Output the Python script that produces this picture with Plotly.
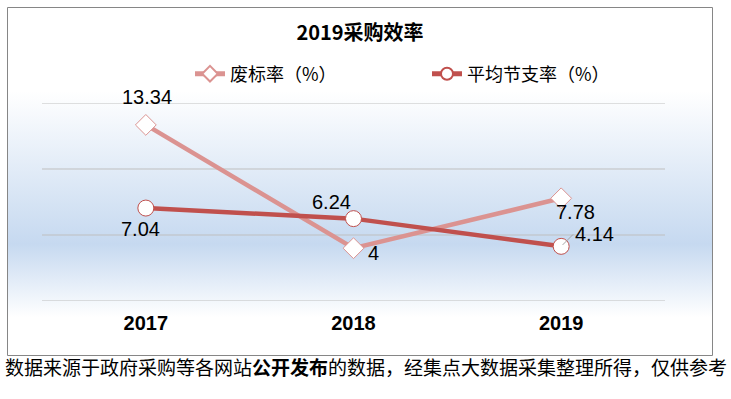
import plotly.graph_objects as go
import base64

years = ["2017", "2018", "2019"]
fei_biao = [13.34, 4, 7.78]
jie_zhi = [7.04, 6.24, 4.14]
name_fei = "废标率（%）"
name_jie = "平均节支率（%）"
title_text = "2019采购效率"
footer = "数据来源于政府采购等各网站<b>公开发布</b>的数据，经集点大数据采集整理所得，仅供参考"
grid_values = [0, 5, 10, 15]

C_LIGHT = "#db9391"
C_DARK = "#c0504d"
NUM_FONT = "Liberation Sans, Arial, sans-serif"
CJK_FONT = "Noto Sans CJK SC, sans-serif"

W, H = 731, 399
L, R, T, B = 42, 66, 103, 98
PW, PH = W - L - R, H - T - B

def px_x(p):
    return (p - L) / PW

def px_y(p):
    return (H - B - p) / PH

svg = (
    '<svg xmlns="http://www.w3.org/2000/svg" width="100" height="349" preserveAspectRatio="none">'
    '<defs><linearGradient id="g" x1="0" y1="0" x2="0" y2="1">'
    '<stop offset="0" stop-color="#ffffff"/>'
    '<stop offset="0.24" stop-color="#ffffff"/>'
    '<stop offset="0.68" stop-color="#c6d9f0"/>'
    '<stop offset="0.89" stop-color="#ffffff"/>'
    '<stop offset="1" stop-color="#ffffff"/>'
    '</linearGradient></defs>'
    '<rect x="0" y="0" width="100" height="349" fill="url(#g)"/></svg>'
)
src = "data:image/svg+xml;base64," + base64.b64encode(svg.encode()).decode()

fig = go.Figure()
fig.add_trace(go.Scatter(
    x=years, y=fei_biao, name=name_fei, mode="lines+markers",
    line=dict(color=C_LIGHT, width=4.5),
    marker=dict(symbol="diamond", size=16, color="white", line=dict(color=C_LIGHT, width=1)),
    legend="legend",
))
fig.add_trace(go.Scatter(
    x=years, y=jie_zhi, name=name_jie, mode="lines+markers",
    line=dict(color=C_DARK, width=4.5),
    marker=dict(symbol="circle", size=16, color="white", line=dict(color=C_DARK, width=1)),
    legend="legend2",
))

# data labels: (series, index, xshift, yshift, arrow offset)
label_styles = [
    (fei_biao, 0, 1, 28, None),
    (fei_biao, 1, 20, -5, None),
    (fei_biao, 2, 14, -14, None),
    (jie_zhi, 0, -5, -21, None),
    (jie_zhi, 1, -22, 17, None),
    (jie_zhi, 2, None, None, (12, -12)),
]
annos = []
for series, i, xs, ys, arr in label_styles:
    v = series[i]
    txt = f"{v:g}"
    if arr is None:
        annos.append(dict(x=i, y=v, xref="x", yref="y", text=txt, showarrow=False,
                          xshift=xs, yshift=ys,
                          font=dict(family=NUM_FONT, size=20, color="black")))
    else:
        annos.append(dict(x=i, y=v, xref="x", yref="y", text=txt, showarrow=True,
                          ax=arr[0], ay=arr[1],
                          arrowhead=0, arrowwidth=1, arrowcolor="#a6a6a6", standoff=2,
                          xanchor="left", font=dict(family=NUM_FONT, size=20, color="black")))

annos.append(dict(xref="paper", yref="paper", x=px_x(366), y=px_y(382), text=footer,
                  showarrow=False, font=dict(family=CJK_FONT, size=19, color="black")))

shapes = [dict(type="line", xref="paper", yref="y", x0=0, x1=1, y0=g, y1=g,
               line=dict(color="#bfbfbf", width=1), layer="below") for g in grid_values]
shapes.append(dict(type="rect", xref="paper", yref="paper", x0=px_x(7.5), x1=px_x(712.5),
                   y0=px_y(355.5), y1=px_y(7.5), line=dict(color="#868686", width=1),
                   fillcolor="rgba(0,0,0,0)", layer="above"))

fig.update_layout(
    width=W, height=H,
    margin=dict(l=L, r=R, t=T, b=B),
    paper_bgcolor="white",
    plot_bgcolor="rgba(0,0,0,0)",
    title=dict(text=title_text, x=360 / W, xref="container", xanchor="center",
               y=1 - 33 / H, yref="container", yanchor="middle",
               font=dict(family=CJK_FONT, size=20, color="black", weight="bold")),
    xaxis=dict(type="category", range=[-0.5, 2.5], showgrid=False, zeroline=False,
               showline=False, ticks="",
               tickfont=dict(family=NUM_FONT, size=20, color="black", weight="bold"),
               ticklabelstandoff=8),
    yaxis=dict(range=[0, 15], showgrid=False, zeroline=False, showline=False,
               showticklabels=False),
    legend=dict(orientation="h", x=px_x(190), y=px_y(74), xanchor="left", yanchor="middle",
                itemsizing="constant",
                font=dict(family=CJK_FONT, size=18, color="black"), bgcolor="rgba(0,0,0,0)"),
    legend2=dict(orientation="h", x=px_x(427), y=px_y(74), xanchor="left", yanchor="middle",
                 itemsizing="constant",
                 font=dict(family=CJK_FONT, size=18, color="black"), bgcolor="rgba(0,0,0,0)"),
    images=[dict(source=src, xref="paper", yref="paper", x=px_x(7.5), y=px_y(7.5),
                  sizex=px_x(712.5) - px_x(7.5), sizey=px_y(7.5) - px_y(355.5),
                  xanchor="left", yanchor="top", sizing="stretch", layer="below")],
    shapes=shapes,
    annotations=annos,
    showlegend=True,
)

fig.write_html("out.html", config={"displayModeBar": False},
               post_script="document.body.style.margin='0';document.body.style.overflow='hidden';")
